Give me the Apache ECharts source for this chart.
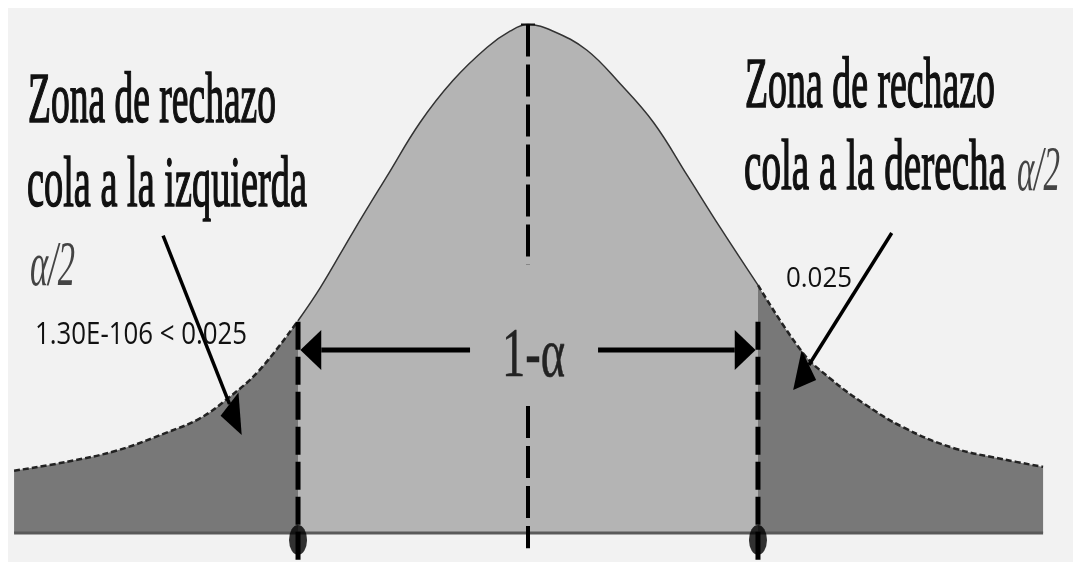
<!DOCTYPE html>
<html>
<head>
<meta charset="utf-8">
<script src="https://cdn.jsdelivr.net/npm/echarts@6.0.0/dist/echarts.min.js"></script>
<style>
  html, body { margin: 0; padding: 0; background: #fff; }
  #main { width: 1073px; height: 562px; }
</style>
</head>
<body>
<div id="main"></div>
<script>
// curva: z (x) y densidad (y)
const leftTailX = [-4.38, -3.93, -3.50, -3.08, -2.80, -2.57, -2.29, -1.96];
const leftTailY = [0.049, 0.056, 0.065, 0.079, 0.090, 0.105, 0.128, 0.167];
const centerX = [-1.96, -1.77, -1.49, -1.20, -0.92, -0.64, -0.35, -0.15, 0, 0.21, 0.50, 0.78, 1.07, 1.36, 1.64, 1.96];
const centerY = [0.167, 0.193, 0.237, 0.281, 0.323, 0.356, 0.382, 0.395, 0.400, 0.395, 0.380, 0.354, 0.323, 0.281, 0.240, 0.195];
const rightTailX = [1.96, 2.34, 2.57, 2.86, 3.20, 3.62, 4.05, 4.39];
const rightTailY = [0.195, 0.142, 0.122, 0.102, 0.083, 0.067, 0.058, 0.052];

// valores críticos y línea central
const critical = [-1.96, 1.96];
const criticalTop = 0.168;
const centerLineTop = [0.40, 0.211];
const centerLineBottom = [0.10, -0.012];

// flechas: desde -> hasta (coordenadas de datos)
const arrowFrom = [[-3.11, 0.234], [3.10, 0.236], [-0.494, 0.144], [0.597, 0.144]];
const arrowTo = [[-2.44, 0.077], [2.26, 0.1125], [-1.94, 0.144], [1.94, 0.144]];

// textos
const serifTexts = ['Zona de rechazo', 'cola a la izquierda', 'α/2', 'Zona de rechazo', 'cola a la derecha', 'α/2', '1-α'];
const valueTexts = ['1.30E-106 < 0.025', '0.025'];

const zip = (xs, ys) => xs.map((x, i) => [x, ys[i]]);

const ctx = document.createElement('canvas').getContext('2d');
function fitScale(text, font, width) {
  ctx.font = font;
  return width / ctx.measureText(text).width;
}
// texto con ancho ajustado (la figura original está comprimida horizontalmente)
function label(text, left, baseline, size, width, o) {
  const font = (o.italic ? 'italic ' : '') + (o.bold ? 'bold ' : '') + size + 'px ' + o.family;
  return {
    type: 'text', x: left, y: baseline - o.k * size, z: 10,
    scaleX: fitScale(text, font, width),
    style: {
      text: text, font: font, fill: o.color, align: 'left', verticalAlign: 'middle',
      stroke: o.stroke ? o.color : null, lineWidth: o.stroke || 0
    }
  };
}
const serif = '"Liberation Serif", serif';
const sans = '"Open Sans", "Noto Sans", sans-serif';
const SB = { family: serif, color: '#111', k: 0.34, stroke: 1.6 };
const SI = { family: serif, italic: true, color: '#444', k: 0.34 };
const SN = { family: serif, color: '#222', k: 0.34, stroke: 0.6 };
const SS = { family: sans, color: '#111', k: 0.39 };

const myChart = echarts.init(document.getElementById('main'));

const dashed = (x, y0, y1, w, dash) => ({
  type: 'line', data: [[x, y0], [x, y1]], symbol: 'none', silent: true, z: 5,
  lineStyle: { color: '#000', width: w, type: dash }
});

const option = {
  backgroundColor: '#f2f2f2',
  animation: false,
  grid: { left: 0, right: 17, top: 11.9, bottom: 3.6 },
  xAxis: { type: 'value', min: -4.5, max: 4.5, show: false },
  yAxis: { type: 'value', min: -0.02, max: 0.41, show: false },
  graphic: [
    { type: 'rect', shape: { x: 0, y: 0, width: 1073, height: 8 }, style: { fill: '#fff' } },
    { type: 'rect', shape: { x: 0, y: 0, width: 8, height: 562 }, style: { fill: '#fff' } },
    label(serifTexts[0], 28, 128, 72, 248, SB),
    label(serifTexts[1], 27, 212, 72, 280, SB),
    label(serifTexts[2], 30, 290, 64, 45, SI),
    label(serifTexts[3], 745, 113, 72, 250, SB),
    label(serifTexts[4], 744, 195, 72, 262, SB),
    label(serifTexts[5], 1017, 195, 64, 43, SI),
    label(serifTexts[6], 502, 381, 70, 63, SN),
    label(valueTexts[0], 35, 347, 31, 212, SS),
    label(valueTexts[1], 786, 290, 28, 66, SS)
  ],
  series: [
    {
      type: 'line', data: zip(leftTailX, leftTailY), smooth: 0.4, symbol: 'none', z: 3,
      lineStyle: { color: '#222', width: 2.5, type: [6, 3] },
      areaStyle: { color: '#787878', opacity: 1 }
    },
    {
      type: 'line', data: zip(centerX, centerY), smooth: 0.4, symbol: 'none', z: 2,
      lineStyle: { color: '#333', width: 1.5 },
      areaStyle: { color: '#b4b4b4', opacity: 1 }
    },
    {
      type: 'line', data: zip(rightTailX, rightTailY), smooth: 0.4, symbol: 'none', z: 3,
      lineStyle: { color: '#222', width: 2.5, type: [6, 3] },
      areaStyle: { color: '#787878', opacity: 1 }
    },
    {
      // línea base
      type: 'line', data: [[leftTailX[0], 0], [rightTailX[rightTailX.length - 1], 0]],
      symbol: 'none', z: 4, lineStyle: { color: '#5a5a5a', width: 3 }
    },
    {
      // marca en el máximo
      type: 'line', data: [[-0.06, 0.40], [0.06, 0.40]],
      symbol: 'none', z: 5, lineStyle: { color: '#111', width: 2 }
    },
    dashed(critical[0], -0.021, criticalTop, 5, [28, 7]),
    dashed(critical[1], -0.021, criticalTop, 5, [28, 7]),
    dashed(0, centerLineTop[0], centerLineTop[1], 4, [32, 8]),
    dashed(0, centerLineBottom[0], centerLineBottom[1], 4, [32, 8]),
    {
      type: 'scatter', data: critical.map(c => [c, -0.0055]), symbol: 'circle',
      symbolSize: [18, 30], itemStyle: { color: '#000' }, z: 6, silent: true
    },
    {
      type: 'custom', z: 7, silent: true,
      data: arrowFrom.map((f, i) => [f[0], f[1], arrowTo[i][0], arrowTo[i][1]]),
      encode: { x: [0, 2], y: [1, 3] },
      renderItem: function (params, api) {
        const a = api.coord([api.value(0), api.value(1)]);
        const b = api.coord([api.value(2), api.value(3)]);
        const S = 0.55, L = 38, W = 40;
        let dx = (b[0] - a[0]) / S, dy = b[1] - a[1];
        const len = Math.hypot(dx, dy);
        dx /= len; dy /= len;
        const bx = b[0] - L * dx * S, by = b[1] - L * dy;
        const px = -dy * W / 2 * S, py = dx * W / 2;
        const lw = params.dataIndex > 1 ? 5 : 3.5;
        return {
          type: 'group',
          children: [
            { type: 'line', shape: { x1: a[0], y1: a[1], x2: bx, y2: by }, style: { stroke: '#000', lineWidth: lw } },
            { type: 'polygon', shape: { points: [[b[0], b[1]], [bx + px, by + py], [bx - px, by - py]] }, style: { fill: '#000' } }
          ]
        };
      }
    }
  ]
};
myChart.setOption(option);
</script>
</body>
</html>
